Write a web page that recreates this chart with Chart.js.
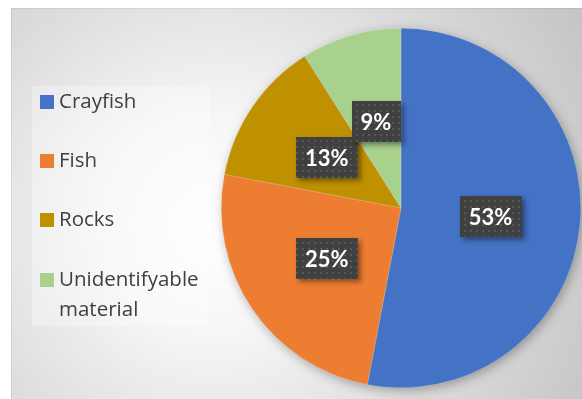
<!DOCTYPE html>
<html><head><meta charset="utf-8">
<script src="https://cdn.jsdelivr.net/npm/chart.js@4.4.1/dist/chart.umd.min.js"></script>
<style>html,body{margin:0;padding:0;background:#fff}#wrap{width:582px;height:399px;position:relative}</style>
</head><body><div id="wrap"><canvas id="c" width="582" height="399"></canvas></div>
<script>
const categories = ['Crayfish', 'Fish', 'Rocks', 'Unidentifyable material'];
const legendLines = [['Crayfish'], ['Fish'], ['Rocks'], ['Unidentifyable', 'material']];
const shares = [53, 25, 13, 9];
const labelTexts = ['53%', '25%', '13%', '9%'];
const colors = ['#4472C4', '#ED7D31', '#BF9000', '#A9D18E'];

const FONT = 'Lato, "Open Sans", "Liberation Sans", sans-serif';
const LEGEND_FONT = '"Open Sans", Lato, "Liberation Sans", sans-serif';

function dotPattern(ctx) {
  const p = document.createElement('canvas');
  p.width = 6; p.height = 6;
  const c = p.getContext('2d');
  c.fillStyle = '#404040';
  c.fillRect(0, 0, 6, 6);
  c.fillStyle = '#575757';
  c.fillRect(2, 2, 2, 2);
  return ctx.createPattern(p, 'repeat');
}

const bgPlugin = {
  id: 'bg',
  beforeDraw(chart) {
    const ctx = chart.ctx;
    ctx.save();
    ctx.fillStyle = '#ffffff';
    ctx.fillRect(0, 0, chart.width, chart.height);
    const g = ctx.createRadialGradient(215, 225, 0, 215, 225, 440);
    g.addColorStop(0, '#ffffff');
    g.addColorStop(0.25, '#f6f6f6');
    g.addColorStop(0.6, '#dcdcdc');
    g.addColorStop(1, '#c2c2c2');
    ctx.fillStyle = g;
    ctx.fillRect(11, 8, chart.width - 11, chart.height - 8);
    ctx.fillStyle = 'rgba(0,0,0,0.06)';
    ctx.fillRect(11, 8, chart.width - 11, 1);
    ctx.fillRect(11, 9, 1, chart.height - 9);
    ctx.restore();
  }
};

const shadowPlugin = {
  id: 'pieShadow',
  beforeDatasetsDraw(chart) {
    const arc = chart.getDatasetMeta(0).data[0];
    if (!arc) return;
    const ctx = chart.ctx;
    ctx.save();
    ctx.shadowColor = 'rgba(0,0,0,0.35)';
    ctx.shadowBlur = 12;
    ctx.shadowOffsetX = 2;
    ctx.shadowOffsetY = 3;
    ctx.fillStyle = '#999';
    ctx.beginPath();
    ctx.arc(arc.x, arc.y, arc.outerRadius - 1, 0, Math.PI * 2);
    ctx.fill();
    ctx.restore();
  }
};

const legendPlugin = {
  id: 'sideLegend',
  afterDraw(chart) {
    const ctx = chart.ctx;
    ctx.save();
    ctx.fillStyle = 'rgba(255,255,255,0.3)';
    ctx.fillRect(32, 86, 178, 240);
    const rowY = [102, 161, 220, 280];
    ctx.font = '20.5px ' + LEGEND_FONT;
    ctx.textBaseline = 'middle';
    ctx.textAlign = 'left';
    categories.forEach((cat, i) => {
      ctx.fillStyle = colors[i];
      ctx.fillRect(40, rowY[i] - 7, 14, 14);
      ctx.fillStyle = '#404040';
      legendLines[i].forEach((ln, j) => {
        ctx.fillText(ln, 59, rowY[i] + j * 30);
      });
    });
    ctx.restore();
  }
};

const labelPlugin = {
  id: 'boxLabels',
  afterDatasetsDraw(chart) {
    const ctx = chart.ctx;
    const meta = chart.getDatasetMeta(0);
    const pat = dotPattern(ctx);
    ctx.save();
    ctx.font = 'bold 22px ' + FONT;
    ctx.textAlign = 'center';
    ctx.textBaseline = 'middle';
    meta.data.forEach((arc, i) => {
      const pos = arc.tooltipPosition();
      const t = labelTexts[i];
      const w = ctx.measureText(t).width + 18;
      const h = 41;
      const x = Math.round(pos.x - w / 2), y = Math.round(pos.y - h / 2);
      ctx.save();
      ctx.shadowColor = 'rgba(0,0,0,0.4)';
      ctx.shadowBlur = 5;
      ctx.shadowOffsetX = 3;
      ctx.shadowOffsetY = 3;
      ctx.fillStyle = '#404040';
      ctx.fillRect(x, y, w, h);
      ctx.restore();
      ctx.fillStyle = pat;
      ctx.fillRect(x, y, w, h);
      ctx.fillStyle = '#ffffff';
      ctx.fillText(t, pos.x, pos.y + 1);
    });
    ctx.restore();
  }
};

new Chart(document.getElementById('c'), {
  type: 'pie',
  data: {
    labels: categories,
    datasets: [{
      data: shares,
      backgroundColor: colors,
      borderColor: 'rgba(255,255,255,0.35)',
      borderWidth: 0.5
    }]
  },
  options: {
    responsive: false,
    devicePixelRatio: 1,
    animation: false,
    layout: { padding: { left: 221, right: 1, top: 28, bottom: 11 } },
    plugins: {
      legend: { display: false },
      tooltip: { enabled: false }
    }
  },
  plugins: [bgPlugin, shadowPlugin, labelPlugin, legendPlugin]
});
</script>
</body></html>
